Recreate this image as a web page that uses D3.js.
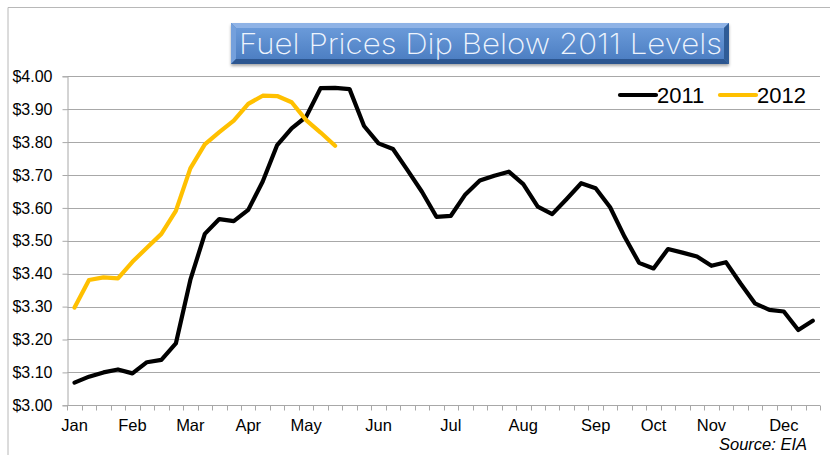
<!DOCTYPE html>
<html>
<head>
<meta charset="utf-8">
<script src="https://cdn.jsdelivr.net/npm/d3@7.9.0/dist/d3.min.js"></script>
<style>
  html, body { margin: 0; padding: 0; background: #fff; }
  svg { display: block; font-family: "Liberation Sans", Arial, Helvetica, sans-serif; }
</style>
</head>
<body>
<svg id="chart" width="830" height="455"></svg>
<script>
// weekly average prices ($/gal)
const prices2011 = [
  3.069, 3.087, 3.100, 3.109, 3.097, 3.131, 3.138, 3.188, 3.381, 3.521,
  3.566, 3.560, 3.594, 3.680, 3.791, 3.842, 3.877, 3.964, 3.965, 3.961,
  3.849, 3.796, 3.779, 3.715, 3.649, 3.573, 3.576, 3.641, 3.683, 3.698,
  3.710, 3.672, 3.604, 3.581, 3.627, 3.675, 3.660, 3.602, 3.512, 3.433,
  3.416, 3.475, 3.464, 3.452, 3.424, 3.435, 3.371, 3.310, 3.290, 3.285,
  3.229, 3.257
];
const prices2012 = [
  3.297, 3.381, 3.389, 3.386, 3.436, 3.479, 3.521, 3.591, 3.720, 3.793,
  3.830, 3.865, 3.916, 3.941, 3.940, 3.921, 3.867, 3.829, 3.789
];
const monthNames = ['Jan', 'Feb', 'Mar', 'Apr', 'May', 'Jun', 'Jul', 'Aug', 'Sep', 'Oct', 'Nov', 'Dec'];
const monthWeeks = [0, 4, 8, 12, 16, 21, 26, 31, 36, 40, 44, 49];
const yTicks = [3.0, 3.1, 3.2, 3.3, 3.4, 3.5, 3.6, 3.7, 3.8, 3.9, 4.0];
const seriesNames = ['2011', '2012'];
const seriesColors = ['#000000', '#ffc000'];

const svg = d3.select('#chart');
const plotLeft = 67.3, plotRight = 820, plotTop = 76.3, plotBottom = 405.3;

const x = d3.scaleBand().domain(d3.range(52)).range([plotLeft, plotRight]);
const y = d3.scaleLinear().domain([3, 4]).range([plotBottom, plotTop]);
const cx = (i) => x(i) + x.bandwidth() / 2;

// outer frame (top + left edges only visible)
svg.append('path')
  .attr('d', 'M8,455 L8,7.5 L830,7.5')
  .attr('fill', 'none')
  .attr('stroke', '#b8b8b8')
  .attr('stroke-width', 1);

// title box with a bevel
const defs = svg.append('defs');
const g1 = defs.append('linearGradient').attr('id', 'tfill').attr('x1', 0).attr('y1', 0).attr('x2', 0).attr('y2', 1);
g1.append('stop').attr('offset', '0%').attr('stop-color', '#6a9ad9');
g1.append('stop').attr('offset', '100%').attr('stop-color', '#4d7fc3');
const sh = defs.append('filter').attr('id', 'shadow').attr('x', '-5%').attr('y', '-20%').attr('width', '110%').attr('height', '160%');
sh.append('feDropShadow').attr('dx', 0).attr('dy', 2).attr('stdDeviation', 1.5).attr('flood-color', '#000').attr('flood-opacity', 0.35);

const tb = { x: 231, y: 23, w: 498, h: 41, b: 5 };
const title = svg.append('g');
title.append('rect')
  .attr('x', tb.x).attr('y', tb.y).attr('width', tb.w).attr('height', tb.h)
  .attr('fill', '#4a7bbd').attr('filter', 'url(#shadow)');
const bevel = [
  [[tb.x, tb.y], [tb.x + tb.w, tb.y], [tb.x + tb.w - tb.b, tb.y + tb.b], [tb.x + tb.b, tb.y + tb.b], '#8fb3e6'],
  [[tb.x, tb.y], [tb.x + tb.b, tb.y + tb.b], [tb.x + tb.b, tb.y + tb.h - tb.b], [tb.x, tb.y + tb.h], '#74a0dc'],
  [[tb.x + tb.w, tb.y], [tb.x + tb.w, tb.y + tb.h], [tb.x + tb.w - tb.b, tb.y + tb.h - tb.b], [tb.x + tb.w - tb.b, tb.y + tb.b], '#2f5c97'],
  [[tb.x, tb.y + tb.h], [tb.x + tb.b, tb.y + tb.h - tb.b], [tb.x + tb.w - tb.b, tb.y + tb.h - tb.b], [tb.x + tb.w, tb.y + tb.h], '#2c5690']
];
bevel.forEach((p) => {
  title.append('polygon')
    .attr('points', p.slice(0, 4).map((q) => q.join(',')).join(' '))
    .attr('fill', p[4]);
});
title.append('rect')
  .attr('x', tb.x + tb.b).attr('y', tb.y + tb.b)
  .attr('width', tb.w - 2 * tb.b).attr('height', tb.h - 2 * tb.b)
  .attr('fill', 'url(#tfill)');
title.append('text')
  .attr('x', 239).attr('y', 54)
  .attr('textLength', 483).attr('lengthAdjust', 'spacingAndGlyphs')
  .attr('font-family', 'Inter, Lato, "Open Sans", sans-serif')
  .attr('font-weight', 200)
  .attr('font-size', 29)
  .attr('fill', '#eef4fd')
  .text('Fuel Prices Dip Below 2011 Levels');

// gridlines
svg.append('g')
  .selectAll('line')
  .data(yTicks.slice(1))
  .enter()
  .append('line')
  .attr('x1', plotLeft).attr('x2', plotRight)
  .attr('y1', (d) => Math.round(y(d)) + 0.5).attr('y2', (d) => Math.round(y(d)) + 0.5)
  .attr('stroke', '#a8a8a8').attr('stroke-width', 1);

// y axis
const yAxis = svg.append('g')
  .attr('transform', `translate(${Math.round(plotLeft) + 0.5},0)`)
  .call(d3.axisLeft(y).tickValues(yTicks).tickFormat((d) => '$' + d3.format('.2f')(d)).tickSize(5).tickPadding(10));
yAxis.selectAll('.domain').attr('stroke', '#a8a8a8');
yAxis.selectAll('.tick line').attr('stroke', '#a8a8a8');
yAxis.selectAll('.tick text')
  .attr('font-size', 16).attr('fill', '#000')
  .attr('font-family', '"Liberation Sans", Arial, sans-serif');

// x axis: ticks between weeks, labels at month starts
const xg = svg.append('g').attr('transform', `translate(0,${Math.round(plotBottom) + 0.5})`);
xg.append('line').attr('x1', plotLeft).attr('x2', plotRight).attr('stroke', '#a8a8a8');
xg.selectAll('line.tk')
  .data(d3.range(53))
  .enter()
  .append('line')
  .attr('class', 'tk')
  .attr('x1', (i) => Math.round(plotLeft + i * x.step()) + 0.5)
  .attr('x2', (i) => Math.round(plotLeft + i * x.step()) + 0.5)
  .attr('y1', 0).attr('y2', 5)
  .attr('stroke', '#a8a8a8');
xg.selectAll('text')
  .data(monthNames)
  .enter()
  .append('text')
  .attr('x', (d, i) => cx(monthWeeks[i]))
  .attr('y', 25)
  .attr('text-anchor', 'middle')
  .attr('font-size', 16.5)
  .attr('fill', '#000')
  .text((d) => d);

// lines
const line = d3.line().x((d, i) => cx(i)).y((d) => y(d));
[prices2011, prices2012].forEach((s, k) => {
  svg.append('path')
    .datum(s)
    .attr('d', line)
    .attr('fill', 'none')
    .attr('stroke', seriesColors[k])
    .attr('stroke-width', 4.2)
    .attr('stroke-linejoin', 'round')
    .attr('stroke-linecap', 'round');
});

// legend
const legendX = [620, 720];
seriesNames.forEach((name, k) => {
  const lg = svg.append('g').attr('transform', `translate(${legendX[k]},95)`);
  lg.append('line').attr('x1', 0).attr('x2', 36)
    .attr('stroke', seriesColors[k]).attr('stroke-width', 4.2).attr('stroke-linecap', 'round');
  lg.append('text').attr('x', 37).attr('y', 8)
    .attr('font-size', 22).attr('fill', '#000').text(name);
});

// source note
svg.append('text')
  .attr('x', 807).attr('y', 449.5)
  .attr('text-anchor', 'end')
  .attr('font-size', 16.5)
  .attr('font-style', 'italic')
  .attr('fill', '#000')
  .text('Source: EIA');
</script>
</body>
</html>
